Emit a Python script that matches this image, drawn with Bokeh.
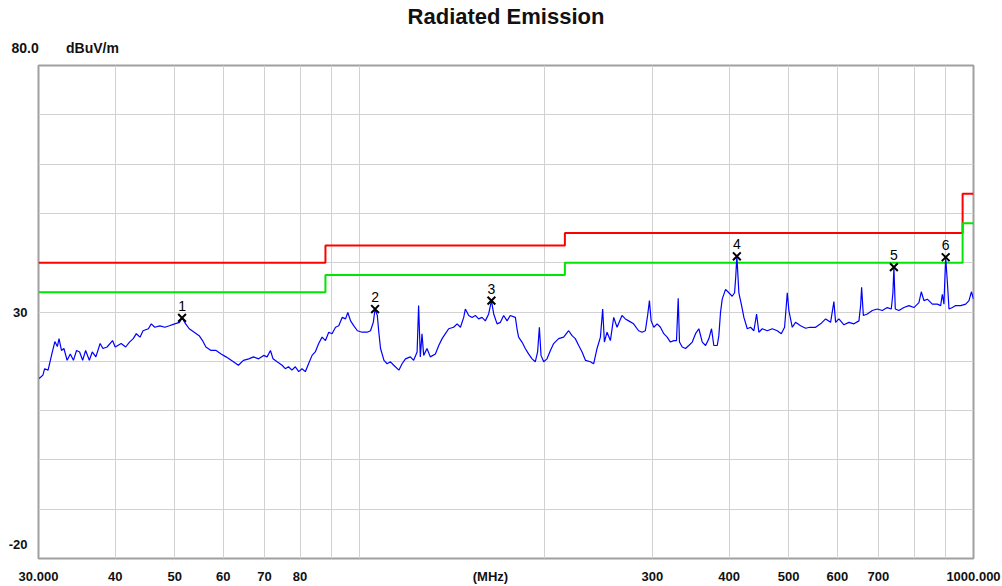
from bokeh.plotting import figure
from bokeh.models import FixedTicker, Range1d, Title
from bokeh.embed import file_html
from bokeh.resources import INLINE
from bokeh.core.properties import value

# ---- measured trace (MHz, dBuV/m) ----
FREQ_MHZ = [
    30.08, 30.5, 30.7, 31.1, 31.5, 31.9, 32.2, 32.4, 32.7, 33.0, 33.4, 33.8, 34.2, 34.6, 35.0,
    35.4, 35.8, 36.3, 36.7, 37.2, 37.8, 38.2, 38.8, 39.6, 40.0, 40.9, 41.6, 42.2, 42.8, 43.3,
    43.9, 44.4, 45.3, 45.8, 46.4, 47.3, 48.2, 49.0, 50.0, 50.9, 51.4, 52.1, 52.8, 53.8, 54.8,
    55.5, 56.2, 57.3, 58.4, 59.5, 60.6, 61.8, 63.5, 64.7, 66.0, 67.2, 68.5, 69.8, 70.7, 71.6,
    72.3, 73.4, 74.8, 75.7, 76.6, 77.6, 78.6, 79.6, 80.6, 81.6, 82.6, 83.7, 84.7, 85.8, 86.9,
    88.0, 89.1, 90.2, 91.4, 92.5, 93.7, 94.9, 95.7, 96.7, 97.9, 99.2, 101.0, 102.9, 104.2, 105.3,
    106.0, 106.9, 107.5, 108.2, 109.6, 110.9, 112.3, 113.7, 115.9, 117.3, 118.8, 121.0, 122.5, 124.1, 124.8,
    125.6, 126.4, 127.2, 128.8, 130.4, 132.9, 134.6, 136.3, 138.0, 139.7, 142.3, 144.2, 146.0, 147.8, 148.7,
    150.6, 152.5, 154.4, 156.3, 158.3, 160.3, 162.3, 164.0, 165.4, 167.5, 169.6, 171.7, 173.9, 176.0, 179.4,
    180.5, 181.6, 183.9, 186.2, 188.5, 191.0, 193.3, 195.0, 196.3, 197.5, 199.5, 202.0, 204.6, 207.1, 211.0,
    215.0, 219.1, 221.9, 224.6, 227.5, 230.4, 233.3, 237.7, 240.6, 243.7, 246.8, 248.9, 250.5, 253.0, 256.2,
    259.4, 262.7, 267.6, 271.0, 274.4, 279.5, 284.8, 288.5, 292.1, 294.6, 296.6, 298.5, 301.5, 305.3, 309.1,
    313.0, 317.0, 320.9, 325.0, 328.3, 330.4, 332.0, 335.4, 339.6, 343.8, 348.3, 352.6, 357.0, 361.6, 366.1,
    370.7, 374.4, 377.6, 382.5, 384.8, 387.2, 389.7, 394.6, 399.5, 404.6, 408.2, 410.0, 411.7, 414.8, 419.1,
    422.7, 428.1, 433.4, 438.8, 443.3, 447.1, 452.9, 461.5, 470.2, 479.1, 486.3, 492.4, 497.4, 500.4, 506.8,
    513.1, 522.8, 532.8, 541.4, 553.1, 563.6, 574.3, 585.1, 592.4, 596.2, 603.6, 615.1, 626.7, 638.6, 650.7,
    654.9, 657.3, 661.6, 671.5, 684.2, 697.2, 710.4, 723.8, 734.7, 739.2, 741.9, 745.8, 755.9, 770.3, 784.9,
    799.8, 814.9, 822.2, 830.4, 841.0, 856.9, 873.2, 884.1, 889.7, 895.1, 900.9, 906.7, 912.2, 923.8, 935.4,
    953.0, 971.2, 983.2, 992.2, 1000.0,
]
LEVEL_DBUV = [
    16.5, 17.2, 18.5, 18.2, 21.2, 24.0, 23.0, 24.6, 22.2, 22.6, 20.2, 21.5, 20.2, 22.2, 21.9,
    20.2, 22.2, 20.2, 21.9, 20.9, 23.6, 22.6, 22.9, 24.2, 22.9, 23.6, 22.9, 23.9, 24.6, 25.6,
    24.9, 26.2, 26.6, 27.6, 26.9, 27.2, 26.9, 27.2, 27.6, 27.9, 28.8, 27.6, 26.6, 25.9, 25.2,
    24.2, 22.9, 22.2, 22.2, 21.5, 20.9, 20.2, 19.2, 20.2, 20.5, 20.9, 20.5, 21.2, 20.9, 22.2,
    20.5, 19.9, 19.2, 18.5, 18.9, 18.2, 18.9, 17.9, 18.5, 17.9, 19.5, 21.2, 21.9, 23.6, 24.9,
    24.2, 25.9, 25.6, 26.9, 27.2, 28.9, 28.6, 29.9, 28.2, 27.2, 26.2, 25.9, 25.9, 26.2, 27.9,
    30.6, 29.3, 25.9, 22.6, 20.2, 19.5, 19.9, 19.2, 18.2, 19.5, 20.5, 20.9, 20.2, 21.9, 31.3,
    20.9, 25.6, 21.2, 22.6, 20.9, 21.5, 23.2, 24.6, 25.6, 26.6, 26.9, 27.6, 26.9, 28.9, 30.6,
    29.3, 28.9, 29.3, 28.6, 28.9, 28.2, 29.6, 32.3, 29.6, 27.6, 27.9, 29.3, 28.2, 29.3, 28.9,
    26.6, 24.9, 23.9, 22.6, 21.5, 20.5, 19.9, 21.9, 26.9, 21.2, 19.9, 20.5, 22.2, 23.6, 24.6,
    24.9, 26.2, 25.2, 24.6, 23.2, 21.9, 20.2, 19.9, 19.5, 22.6, 24.9, 30.6, 23.9, 25.9, 24.2,
    28.9, 26.9, 29.3, 28.6, 28.2, 27.6, 26.2, 25.9, 26.2, 29.3, 32.3, 28.2, 26.9, 27.6, 26.9,
    25.6, 24.9, 23.9, 24.2, 24.2, 32.8, 23.9, 22.9, 22.6, 23.2, 23.9, 25.6, 26.6, 23.9, 23.2,
    24.6, 26.6, 23.2, 23.2, 25.2, 29.9, 32.6, 34.6, 33.9, 33.2, 33.9, 37.2, 41.3, 33.9, 31.3,
    28.9, 26.6, 26.9, 26.2, 29.6, 25.9, 26.6, 26.2, 26.6, 26.2, 25.6, 26.9, 33.9, 30.3, 26.9,
    27.9, 27.2, 26.7, 26.9, 26.9, 27.6, 28.6, 27.9, 32.1, 27.9, 28.6, 27.4, 27.9, 27.6, 28.2,
    31.3, 35.0, 29.3, 29.6, 30.3, 30.6, 30.3, 30.9, 30.6, 33.9, 39.1, 30.6, 30.3, 30.9, 31.3,
    30.9, 31.9, 34.1, 32.3, 32.6, 31.6, 31.6, 31.3, 33.6, 31.6, 41.1, 36.0, 30.6, 30.9, 31.3,
    31.3, 31.6, 32.3, 34.1, 32.6,
]

# ---- limit lines (step after) ----
LIMIT_FREQ = [30, 88, 216, 960, 1000]
LIMIT_QP = [40.0, 43.5, 46.0, 54.0, 54.0]
LIMIT_MARGIN = [34.0, 37.5, 40.0, 48.0, 48.0]

# ---- peak markers ----
MARK_FREQ = [51.4, 106.0, 164.0, 411.7, 741.9, 900.9]
MARK_LEVEL = [28.8, 30.6, 32.3, 41.3, 39.1, 41.1]
MARK_TEXT = ["1", "2", "3", "4", "5", "6"]

# ---- axes ----
X_TICKS = [30, 40, 50, 60, 70, 80, 163.4, 300, 400, 500, 600, 700, 1000]
X_TICK_LABELS = ["30.000", "40", "50", "60", "70", "80", "(MHz)", "300", "400", "500",
                 "600", "700", "1000.000"]
X_GRID = [40, 50, 60, 70, 80, 90, 100, 200, 300, 400, 500, 600, 700, 800, 900]
Y_GRID = [-10, 0, 10, 20, 30, 40, 50, 60, 70]
Y_TICKS = [30, -17.2]          # "-20" is printed just above the bottom edge
Y_TICK_LABELS = ["30", "-20"]
TITLE = "Radiated Emission"
UNITS = "80.0" + "\u00a0" * 7 + "dBuV/m"

FONT = "Liberation Sans"

main_title = Title(text=TITLE, align="center", offset=16, standoff=0,
                   text_font=FONT, text_font_size="22px", text_font_style="bold",
                   text_color="#111111")
units_title = Title(text=UNITS, align="left", offset=-27, standoff=19,
                    text_font=FONT, text_font_size="14px", text_font_style="bold",
                    text_color="#111111")

p = figure(width=1002, height=586, x_axis_type="log", title=main_title,
           x_range=Range1d(30, 1000), y_range=Range1d(-20, 80),
           output_backend="svg", toolbar_location=None,
           min_border_left=38, min_border_right=29,
           min_border_top=65, min_border_bottom=24)
p.add_layout(units_title, "above")

p.background_fill_color = "white"
p.border_fill_color = "white"
p.outline_line_color = "#a0a0a0"
p.outline_line_width = 2

for ax in (p.xaxis[0], p.yaxis[0]):
    ax.axis_line_color = None
    ax.major_tick_line_color = None
    ax.minor_tick_line_color = None
    ax.major_label_text_font = FONT
    ax.major_label_text_font_style = "bold"
    ax.major_label_text_font_size = "13px"
    ax.major_label_text_color = "#111111"

p.xaxis[0].ticker = FixedTicker(ticks=X_TICKS)
p.xaxis[0].major_label_overrides = dict(zip(X_TICKS, X_TICK_LABELS))
p.xaxis[0].major_label_standoff = 4
p.yaxis[0].ticker = FixedTicker(ticks=Y_TICKS)
p.yaxis[0].major_label_overrides = dict(zip(Y_TICKS, Y_TICK_LABELS))
p.yaxis[0].major_label_standoff = 5

p.xgrid.ticker = FixedTicker(ticks=X_GRID)
p.ygrid.ticker = FixedTicker(ticks=Y_GRID)
for g in (p.xgrid[0], p.ygrid[0]):
    g.grid_line_color = "#d2d2d2"
    g.grid_line_width = 1

p.step(LIMIT_FREQ, LIMIT_QP, mode="after", line_color="#ff0000", line_width=2)
p.step(LIMIT_FREQ, LIMIT_MARGIN, mode="after", line_color="#00e600", line_width=2)
p.line(FREQ_MHZ, LEVEL_DBUV, line_color="#0000ff", line_width=1.2)

p.scatter(MARK_FREQ, MARK_LEVEL, marker="x", size=11, line_color="black", line_width=2)
p.text(MARK_FREQ, MARK_LEVEL, text=MARK_TEXT, text_align="center", text_baseline="middle",
       y_offset=-12, text_font=value(FONT), text_font_size="14px", text_color="black")

open("out.html", "w").write(file_html(p, INLINE))
